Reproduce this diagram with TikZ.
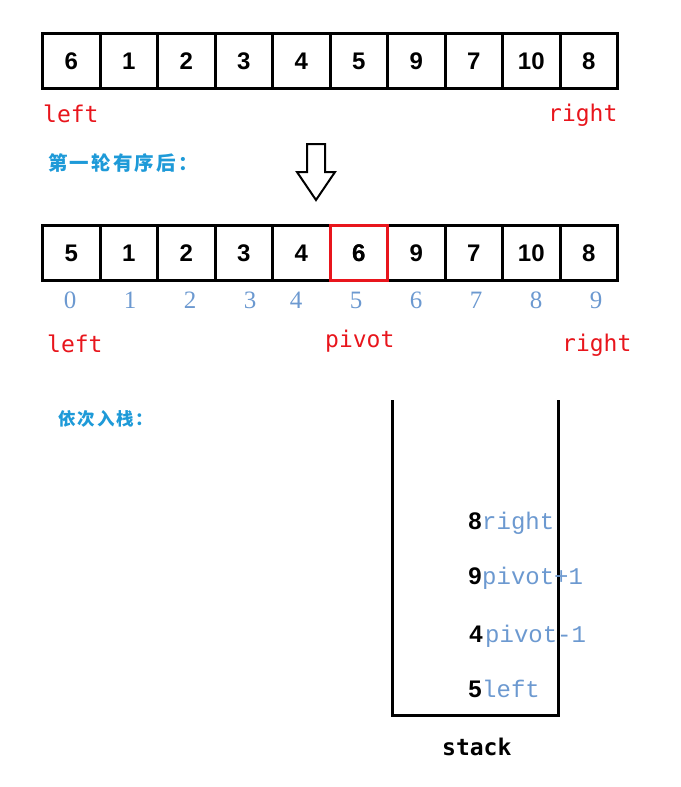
\documentclass[tikz,border=0pt]{standalone}
\usepackage{fontspec}
\setmainfont{Liberation Sans}
\newfontfamily\cjkfont{Noto Sans CJK SC}[LetterSpace=11]
\newfontfamily\monofont{DejaVu Sans Mono}
\newfontfamily\serifnum{Liberation Serif}
\newfontfamily\stackfont{Liberation Mono}
\usetikzlibrary{positioning}
\definecolor{ptrred}{HTML}{E8151C}
\definecolor{idxblue}{HTML}{6C99D0}
\definecolor{notecyan}{HTML}{1E9AD8}
\tikzstyle{cell} = [rectangle, minimum width=57.5pt, minimum height=55pt, inner sep=0pt, outer sep=0pt, draw=black, line width=3pt, font=\bfseries\fontsize{24}{24}\selectfont]
\tikzstyle{pivotcell} = [cell, draw=ptrred]
\tikzstyle{pointer} = [anchor=base west, inner sep=0pt, text=ptrred, font=\monofont\fontsize{23}{23}\selectfont]
\tikzstyle{index} = [anchor=base, inner sep=0pt, text=idxblue, font=\serifnum\fontsize{25}{25}\selectfont]
\tikzstyle{note} = [anchor=base west, inner sep=0pt, text=notecyan, font=\cjkfont\bfseries\fontsize{19.5}{19.5}\selectfont]
\tikzstyle{entry} = [anchor=base east, inner sep=0pt, font=\bfseries\fontsize{24}{24}\selectfont]
\tikzstyle{entrylabel} = [anchor=base west, inner sep=0pt, text=idxblue, font=\stackfont\fontsize{24}{24}\selectfont]
\tikzstyle{wall} = [line width=3pt]
\tikzstyle{bigarrow} = [line width=2pt, fill=white]

\begin{document}
\begin{tikzpicture}[x=1pt, y=-1pt, node distance=0pt]
    \useasboundingbox (0,0) rectangle (680,787);

    % before the first pass
    \node (a1) [cell] at (71.25,61) {6};
    \node (a2) [cell, right=of a1] {1};
    \node (a3) [cell, right=of a2] {2};
    \node (a4) [cell, right=of a3] {3};
    \node (a5) [cell, right=of a4] {4};
    \node (a6) [cell, right=of a5] {5};
    \node (a7) [cell, right=of a6] {9};
    \node (a8) [cell, right=of a7] {7};
    \node (a9) [cell, right=of a8] {10};
    \node (a10) [cell, right=of a9] {8};

    \node (left1) [pointer] at (43,122) {left};
    \node (right1) [pointer] at (548,121) {right};

    \node (note1) [note] at (48,170) {第一轮有序后：};

    \coordinate (down) at (316,144);
    \draw [bigarrow] (down) ++(-9,0) -- ++(18,0) -- ++(0,28) -- ++(10,0) -- (316,200) -- (297,172) -- ++(10,0) -- cycle;

    % after the first pass
    \node (b1) [cell] at (71.25,253) {5};
    \node (b2) [cell, right=of b1] {1};
    \node (b3) [cell, right=of b2] {2};
    \node (b4) [cell, right=of b3] {3};
    \node (b5) [cell, right=of b4] {4};
    \node (b6) [cell, right=of b5] {6};
    \node (b7) [cell, right=of b6] {9};
    \node (b8) [cell, right=of b7] {7};
    \node (b9) [cell, right=of b8] {10};
    \node (b10) [cell, right=of b9] {8};
    \node (b6r) [pivotcell] at (b6) {6};

    \node (i0) [index] at (70,308) {0};
    \node (i1) [index] at (130,308) {1};
    \node (i2) [index] at (190,308) {2};
    \node (i3) [index] at (250,308) {3};
    \node (i4) [index] at (296,308) {4};
    \node (i5) [index] at (356,308) {5};
    \node (i6) [index] at (416,308) {6};
    \node (i7) [index] at (476,308) {7};
    \node (i8) [index] at (536,308) {8};
    \node (i9) [index] at (596,308) {9};

    \node (left2) [pointer] at (47,352) {left};
    \node (pivot) [pointer] at (325,347) {pivot};
    \node (right2) [pointer] at (562,351) {right};

    \node (note2) [note, font=\cjkfont\bfseries\fontsize{17.5}{17.5}\selectfont] at (58,425) {依次入栈：};

    % the stack
    \coordinate (stl) at (392,400);
    \coordinate (str) at (558,400);
    \draw [wall] (stl) -- (stl |- 0,715) -- (str |- 0,715) -- (str);

    \node (s1) [entry] at (482,697) {5};
    \node (s1l) [entrylabel] at (s1.base east) {left};
    \node (s2) [entry] at (483,642) {4};
    \node (s2l) [entrylabel] at ([xshift=2pt]s2.base east) {pivot-1};
    \node (s3) [entry] at (482,584) {9};
    \node (s3l) [entrylabel] at (s3.base east) {pivot+1};
    \node (s4) [entry] at (482,529) {8};
    \node (s4l) [entrylabel] at (s4.base east) {right};

    \node (stack) [anchor=base west, inner sep=0pt, font=\monofont\bfseries\fontsize{23}{23}\selectfont] at (442,755) {stack};

\end{tikzpicture}
\end{document}
